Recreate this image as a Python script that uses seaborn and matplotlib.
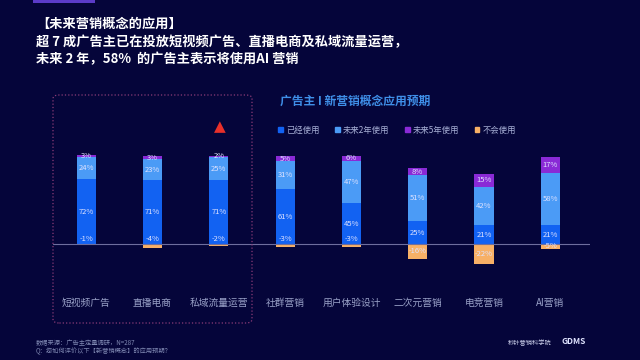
import matplotlib
matplotlib.use("Agg")
import matplotlib.pyplot as plt
import seaborn as sns
import numpy as np
import pandas as pd
from matplotlib.patches import Patch, FancyBboxPatch, Rectangle

# data
categories = ['短视频广告', '直播电商', '私域流量运营', '社群营销', '用户体验设计', '二次元营销', '电竞营销', 'AI营销']
used_now = [72, 71, 71, 61, 45, 25, 21, 21]
in_2_years = [24, 23, 25, 31, 47, 51, 42, 58]
in_5_years = [3, 3, 2, 5, 6, 8, 15, 17]
never = [-1, -4, -2, -3, -3, -16, -22, -5]
series_names = ['已经使用', '未来2年使用', '未来5年使用', '不会使用']

bg = '#05053a'
c_now = '#1262f2'
c_2y = '#4b9bf6'
c_5y = '#8a2ad6'
c_never = '#f7b066'

sns.set_style("dark")
plt.rcParams['font.family'] = ['Noto Sans CJK SC', 'DejaVu Sans']

df = pd.DataFrame({'cat': categories, 'now': used_now, 'y2': in_2_years,
                   'y5': in_5_years, 'never': never})
df['top2'] = df['now'] + df['y2']
df['top3'] = df['top2'] + df['y5']

fig = plt.figure(figsize=(6.4, 3.6), dpi=100, facecolor=bg)
ax = fig.add_axes([0.083, 0.189, 0.839, 0.394])
ax.set_facecolor(bg)

w = 0.29
sns.barplot(data=df, x='cat', y='top3', order=categories, color=c_5y, width=w,
            saturation=1, ax=ax, linewidth=0)
sns.barplot(data=df, x='cat', y='top2', order=categories, color=c_2y, width=w,
            saturation=1, ax=ax, linewidth=0)
sns.barplot(data=df, x='cat', y='now', order=categories, color=c_now, width=w,
            saturation=1, ax=ax, linewidth=0)
sns.barplot(data=df, x='cat', y='never', order=categories, color=c_never, width=w,
            saturation=1, ax=ax, linewidth=0)

ax.axhline(0, color='#6e6e9e', lw=0.8, zorder=5)
ax.set_xlim(-0.5, 7.6)
ax.set_ylim(-53, 104)
ax.set_xlabel('')
ax.set_ylabel('')
ax.set_yticks([])
ax.tick_params(axis='x', length=0, pad=4, labelsize=7, labelcolor='#9aa2c8')
for s in ax.spines.values():
    s.set_visible(False)
ax.grid(False)

lab = dict(ha='center', va='center', fontsize=5.5, color='#dfe2ff', zorder=6)
for i in range(len(categories)):
    a, b, c, n = used_now[i], in_2_years[i], in_5_years[i], never[i]
    ax.text(i, a / 2, f'{a}%', **lab)
    ax.text(i, a + b / 2, f'{b}%', **lab)
    ax.text(i, a + b + c / 2, f'{c}%', **lab)
    ny = 5.5 if abs(n) < 5 else n / 2
    ax.text(i, ny, f'{n}%', **lab)

# legend
handles = [Patch(color=c) for c in [c_now, c_2y, c_5y, c_never]]
fig.legend(handles, series_names, loc='center left', bbox_to_anchor=(0.435, 1 - 130 / 360),
           ncol=4, frameon=False, fontsize=6, labelcolor='#a8b0d6',
           handlelength=0.55, handleheight=0.55, handletextpad=0.35,
           columnspacing=1.9, borderpad=0, borderaxespad=0)

# titles
fig.text(280 / 640, 1 - 101 / 360, '广告主 I 新营销概念应用预期', color='#3f8fe8',
         fontsize=8.5, fontweight='bold', va='center', ha='left')
fig.text(36 / 640, 1 - 24 / 360, '【未来营销概念的应用】', color='white',
         fontsize=9.5, fontweight='bold', va='center')
fig.text(36 / 640, 1 - 42 / 360, '超 7 成广告主已在投放短视频广告、直播电商及私域流量运营，',
         color='white', fontsize=9.5, fontweight='bold', va='center')
fig.text(36 / 640, 1 - 59 / 360, '未来 2 年，58%  的广告主表示将使用AI 营销',
         color='white', fontsize=9.5, fontweight='bold', va='center')

# decorations
fig.add_artist(Rectangle((33 / 640, 1 - 3 / 360), 62 / 640, 3 / 360,
                         transform=fig.transFigure, color='#5b3bc8', lw=0))
fig.add_artist(FancyBboxPatch((53 / 640, 1 - 323 / 360), 199 / 640, 228 / 360,
                              boxstyle='round,pad=0,rounding_size=0.01',
                              transform=fig.transFigure, fill=False,
                              edgecolor='#8c3c78', lw=0.9, linestyle=':'))
fig.text(220 / 640, 1 - 127 / 360, '▲', color='#e8302a', fontsize=11,
         ha='center', va='center', family='DejaVu Sans')

# footer
fig.text(36 / 640, 1 - 343 / 360, '数据来源：广告主定量调研，N=287', color='#7f88b2',
         fontsize=4.5, va='center')
fig.text(36 / 640, 1 - 351 / 360, 'Q：您如何评价以下【新营销概念】的应用预期？', color='#7f88b2',
         fontsize=4.5, va='center')
fig.text(508 / 640, 1 - 343 / 360, '秒针营销科学院', color='#c8cce8', fontsize=4.5, va='center')
fig.text(562 / 640, 1 - 342 / 360, 'GDMS', color='#e0e4ff', fontsize=6,
         fontweight='bold', va='center')

fig.savefig('out.png', dpi=100, facecolor=bg)
